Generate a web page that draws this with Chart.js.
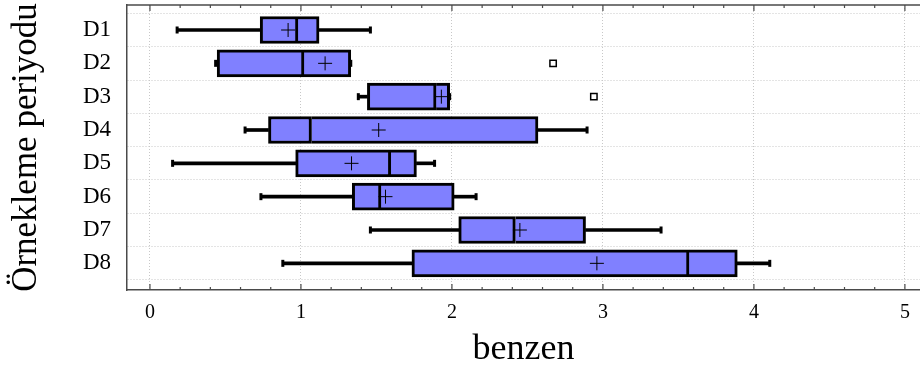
<!DOCTYPE html>
<html>
<head>
<meta charset="utf-8">
<script src="https://cdn.jsdelivr.net/npm/chart.js@4/dist/chart.umd.min.js"></script>
<style>
  html, body { margin: 0; padding: 0; background: #fff; }
  #wrap { width: 920px; height: 369px; }
</style>
</head>
<body>
<div id="wrap"><canvas id="c" width="920" height="369"></canvas></div>
<script>
// ---- data ----
const categories = ['D1', 'D2', 'D3', 'D4', 'D5', 'D6', 'D7', 'D8'];
const whiskerLow  = [0.18, 0.435, 1.38, 0.63, 0.15, 0.735, 1.46, 0.88];
const q1          = [0.73, 0.445, 1.44, 0.785, 0.965, 1.34, 2.045, 1.735];
const median      = [0.98, 1.02, 1.895, 1.07, 1.595, 1.53, 2.42, 3.57];
const q3          = [1.12, 1.33, 1.985, 2.57, 1.765, 2.015, 2.885, 3.89];
const whiskerHigh = [1.46, 1.33, 1.985, 2.895, 1.885, 2.16, 3.385, 4.105];
const means       = [0.915, 1.16, 1.93, 1.515, 1.335, 1.56, 2.45, 2.96];
const outlierCategory = [1, 2];
const outlierValues   = [2.67, 2.94];
const xTickValues = [0, 1, 2, 3, 4, 5];
const xTitle = 'benzen';
const yTitle = 'Örnekleme periyodu';

// ---- derived datasets ----
const idx = categories.map((_, i) => i);
const boxLeft  = idx.map(i => ({ y: i, x: [q1[i], median[i]] }));
const boxRight = idx.map(i => ({ y: i, x: [median[i], q3[i]] }));
const whiskL   = idx.map(i => ({ y: i, x: [whiskerLow[i], q1[i]] }));
const whiskR   = idx.map(i => ({ y: i, x: [q3[i], whiskerHigh[i]] }));
const caps     = idx.flatMap(i => [{ x: whiskerLow[i], y: i }, { x: whiskerHigh[i], y: i }]);
const meanPts  = idx.map(i => ({ x: means[i], y: i }));
const outPts   = outlierCategory.map((c, k) => ({ x: outlierValues[k], y: c }));

const FONT = "'Liberation Serif', 'Times New Roman', serif";
const BOX_FILL = '#8080ff';

const framePlugin = {
  id: 'frameTicks',
  afterDraw(chart) {
    const { ctx, chartArea: a, scales: { x } } = chart;
    ctx.save();
    ctx.strokeStyle = '#4a4a4a';
    ctx.lineWidth = 1.5;
    ctx.beginPath();
    ctx.moveTo(a.left, a.top);
    ctx.lineTo(a.right, a.top);
    ctx.stroke();
    ctx.lineWidth = 1.2;
    for (let k = 0; k <= 25; k++) {
      const v = k * 0.2;
      const px = x.getPixelForValue(v);
      if (px < a.left || px > a.right) continue;
      const major = (k % 5 === 0);
      const len = major ? 6 : 3;
      ctx.beginPath();
      ctx.moveTo(px, a.bottom);
      ctx.lineTo(px, a.bottom - len);
      ctx.moveTo(px, a.top);
      ctx.lineTo(px, a.top + len);
      ctx.stroke();
    }
    ctx.restore();
  }
};

new Chart(document.getElementById('c'), {
  type: 'bar',
  data: {
    datasets: [
      { type: 'scatter', data: meanPts, pointStyle: 'cross', pointRadius: 7, borderColor: '#000', borderWidth: 1, order: 0 },
      { type: 'scatter', data: outPts, pointStyle: 'rect', pointRadius: 4.5, backgroundColor: '#fff', borderColor: '#000', borderWidth: 1.5, order: 0 },
      { type: 'bar', data: boxLeft, backgroundColor: BOX_FILL, borderColor: '#000', borderWidth: 3, borderSkipped: false, barThickness: 27, grouped: false, order: 1 },
      { type: 'bar', data: boxRight, backgroundColor: BOX_FILL, borderColor: '#000', borderWidth: 3, borderSkipped: 'left', barThickness: 27, grouped: false, order: 1 },
      { type: 'scatter', data: caps, pointStyle: 'line', rotation: 90, pointRadius: 3.5, borderColor: '#000', borderWidth: 3, order: 2 },
      { type: 'bar', data: whiskL, backgroundColor: '#000', borderWidth: 0, barThickness: 3, grouped: false, order: 3 },
      { type: 'bar', data: whiskR, backgroundColor: '#000', borderWidth: 0, barThickness: 3, grouped: false, order: 3 }
    ]
  },
  options: {
    indexAxis: 'y',
    responsive: false,
    animation: false,
    events: [],
    layout: { autoPadding: false, padding: { top: 5, right: 0, left: 0, bottom: 0 } },
    plugins: { legend: { display: false }, tooltip: { enabled: false } },
    scales: {
      x: {
        type: 'linear',
        position: 'bottom',
        min: -0.152,
        max: 5.1,
        offset: false,
        afterBuildTicks: s => { s.ticks = xTickValues.map(v => ({ value: v })); },
        afterFit: s => { s.height = 79; s.paddingLeft = 0; s.paddingRight = 0; },
        grid: { color: '#c8c8c8', lineWidth: 1, drawTicks: false, offset: false },
        border: { display: true, color: '#4a4a4a', width: 1.5, dash: [1, 2] },
        ticks: { color: '#000', font: { family: FONT, size: 20 }, padding: 11, callback: v => String(v) },
        title: { display: true, text: xTitle, color: '#000', font: { family: FONT, size: 36, lineHeight: 1.1 }, padding: { top: 0, bottom: 0 } }
      },
      y: {
        type: 'linear',
        position: 'left',
        reverse: true,
        min: -0.75,
        max: 7.8,
        offset: false,
        afterBuildTicks: s => {
          const t = [];
          for (let v = -0.5; v <= 7.5; v += 0.5) t.push({ value: v });
          s.ticks = t;
        },
        afterFit: s => { s.width = 127; s.paddingTop = 0; s.paddingBottom = 0; },
        grid: {
          drawTicks: false,
          offset: false,
          lineWidth: 1,
          color: c => (c.tick && !Number.isInteger(c.tick.value)) ? '#c8c8c8' : 'rgba(0,0,0,0)'
        },
        border: { display: true, color: '#4a4a4a', width: 1.5, dash: [1, 2] },
        ticks: {
          autoSkip: false,
          color: '#000',
          font: { family: FONT, size: 23 },
          padding: 16,
          callback: v => Number.isInteger(v) ? categories[v] : ''
        },
        title: { display: true, text: yTitle, color: '#000', font: { family: FONT, size: 35 }, padding: { top: 6, bottom: 0 } }
      }
    }
  },
  plugins: [framePlugin]
});
</script>
</body>
</html>
